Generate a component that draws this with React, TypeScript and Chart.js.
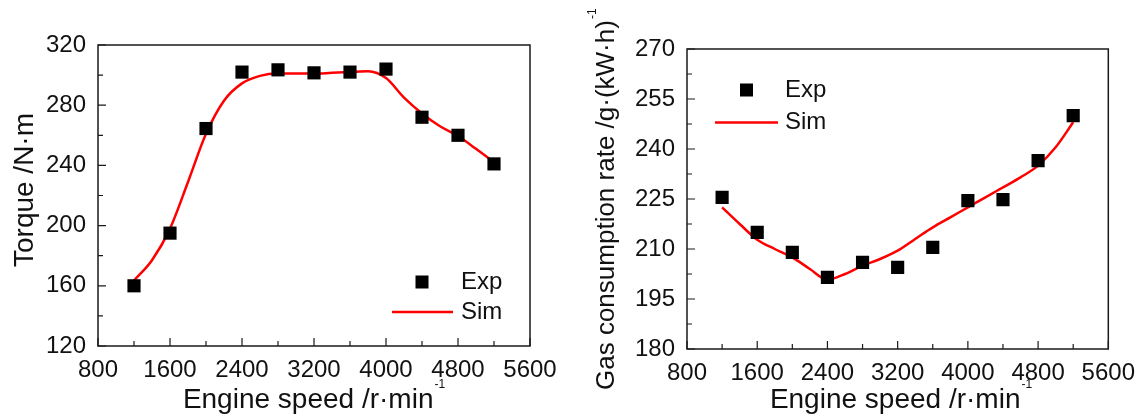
import React, { useEffect, useRef } from "react";
import { Chart, registerables } from "chart.js";

Chart.register(...registerables);

// ---------------- data ----------------
const speeds = [1200, 1600, 2000, 2400, 2800, 3200, 3600, 4000, 4400, 4800, 5200];
const torqueExp = [160, 195, 264.5, 302, 303.5, 301.5, 302, 304, 272, 260, 241];
const gasExp = [225.5, 215, 209, 201.5, 206, 204.5, 210.5, 224.5, 224.8, 236.5, 250];

const simSpeeds = [1200, 1400, 1600, 1800, 2000, 2200, 2400, 2600, 2800, 3000, 3200, 3400, 3600, 3800, 4000, 4200, 4400, 4600, 4800, 5000, 5200];
const torqueSim = [163.5, 177, 198, 229, 261, 283, 294.5, 299.5, 301, 301, 301, 301.5, 302, 302.5, 298, 285, 274.5, 266, 259.5, 251, 242];
const gasSim = [222.5, 217.5, 212.8, 210, 207.5, 204, 200.8, 202.5, 205, 207, 209.5, 213, 216.5, 219.5, 222.5, 225.5, 228.5, 231.5, 235, 240.5, 248];

const speedTicks = [800, 1600, 2400, 3200, 4000, 4800, 5600];
const torqueTicks = [120, 160, 200, 240, 280, 320];
const gasTicks = [180, 195, 210, 225, 240, 255, 270];

const seriesLabels = ["Exp", "Sim"];
const xTitle = "Engine speed /r\u00B7min";
const torqueTitle = "Torque /N\u00B7m";
const gasTitle = "Gas consumption rate /g\u00B7(kW\u00B7h)";
const supText = "-1";

// ---------------- layout ----------------
const FONT = "'Liberation Sans', Arial, Helvetica, sans-serif";
const H = 416;

type Panel = {
  width: number;
  area: { left: number; right: number; top: number; bottom: number };
  exp: number[];
  sim: number[];
  yTicks: number[];
  yTitle: string;
  yTitleSup: boolean;
  yTitleFont: number;
  yTitleBaseX: number;
  yTitleCenterY?: number;
  yTitleStartY?: number;
  xTitleCenter: number;
  legend: { sqX: number; sqY: number; textX: number; lineX1: number; lineX2: number; lineY: number };
};

const panels: Panel[] = [
  {
    width: 572,
    area: { left: 98, right: 530, top: 45, bottom: 346 },
    exp: torqueExp,
    sim: torqueSim,
    yTicks: torqueTicks,
    yTitle: torqueTitle,
    yTitleSup: false,
    yTitleFont: 28,
    yTitleBaseX: 33,
    yTitleCenterY: 190,
    xTitleCenter: 314,
    legend: { sqX: 422, sqY: 282, textX: 461, lineX1: 392, lineX2: 453, lineY: 312 },
  },
  {
    width: 573,
    area: { left: 115, right: 544, top: 49, bottom: 349 },
    exp: gasExp,
    sim: gasSim,
    yTicks: gasTicks,
    yTitle: gasTitle,
    yTitleSup: true,
    yTitleFont: 26,
    yTitleBaseX: 42,
    yTitleStartY: 390,
    xTitleCenter: 329,
    legend: { sqX: 174.5, sqY: 90, textX: 213, lineX1: 143, lineX2: 206, lineY: 122.5 },
  },
];

function decorPlugin(p: Panel) {
  return {
    id: "decor",
    afterDraw(chart: any) {
      const { ctx, chartArea: a, scales } = chart;
      const xs = scales.x;
      const ys = scales.y;
      ctx.save();
      // frame
      ctx.strokeStyle = "#1a1a1a";
      ctx.lineWidth = 1.5;
      ctx.strokeRect(a.left, a.top, a.right - a.left, a.bottom - a.top);
      // inward ticks
      ctx.lineWidth = 1.2;
      ctx.beginPath();
      for (let i = 0; i < speedTicks.length; i++) {
        const px = xs.getPixelForValue(speedTicks[i]);
        ctx.moveTo(px, a.bottom);
        ctx.lineTo(px, a.bottom - 8);
        if (i < speedTicks.length - 1) {
          const mx = xs.getPixelForValue((speedTicks[i] + speedTicks[i + 1]) / 2);
          ctx.moveTo(mx, a.bottom);
          ctx.lineTo(mx, a.bottom - 5);
        }
      }
      for (let i = 0; i < p.yTicks.length; i++) {
        const py = ys.getPixelForValue(p.yTicks[i]);
        ctx.moveTo(a.left, py);
        ctx.lineTo(a.left + 8, py);
        if (i < p.yTicks.length - 1) {
          const my = ys.getPixelForValue((p.yTicks[i] + p.yTicks[i + 1]) / 2);
          ctx.moveTo(a.left, my);
          ctx.lineTo(a.left + 5, my);
        }
      }
      ctx.stroke();

      // legend
      const L = p.legend;
      const ds = chart.data.datasets;
      ctx.fillStyle = "#000";
      ctx.fillRect(L.sqX - 6.5, L.sqY - 6.5, 13, 13);
      ctx.strokeStyle = ds[1].borderColor;
      ctx.lineWidth = 2.5;
      ctx.beginPath();
      ctx.moveTo(L.lineX1, L.lineY);
      ctx.lineTo(L.lineX2, L.lineY);
      ctx.stroke();
      ctx.fillStyle = "#111";
      ctx.font = `24px ${FONT}`;
      ctx.textAlign = "left";
      ctx.textBaseline = "middle";
      ctx.fillText(ds[0].label, L.textX, L.sqY);
      ctx.fillText(ds[1].label, L.textX, L.lineY);

      // x title with superscript
      ctx.textBaseline = "alphabetic";
      ctx.font = `28px ${FONT}`;
      const wMain = ctx.measureText(xTitle).width;
      ctx.font = `12px ${FONT}`;
      const wSup = ctx.measureText(supText).width;
      const x0 = p.xTitleCenter - (wMain + wSup + 1) / 2;
      ctx.font = `28px ${FONT}`;
      ctx.fillText(xTitle, x0, 408);
      ctx.font = `12px ${FONT}`;
      ctx.fillText(supText, x0 + wMain + 1, 388);

      // y title
      ctx.save();
      ctx.font = `${p.yTitleFont}px ${FONT}`;
      const wy = ctx.measureText(p.yTitle).width;
      if (p.yTitleSup) {
        ctx.translate(p.yTitleBaseX, p.yTitleStartY as number);
        ctx.rotate(-Math.PI / 2);
        ctx.textAlign = "left";
        ctx.fillText(p.yTitle, 0, 0);
        ctx.font = `12px ${FONT}`;
        ctx.fillText(supText, wy + 1, -18);
      } else {
        ctx.translate(p.yTitleBaseX, p.yTitleCenterY as number);
        ctx.rotate(-Math.PI / 2);
        ctx.textAlign = "center";
        ctx.fillText(p.yTitle, 0, 0);
      }
      ctx.restore();
      ctx.restore();
    },
  };
}

function makeConfig(p: Panel): any {
  const a = p.area;
  return {
    type: "scatter",
    data: {
      datasets: [
        {
          label: seriesLabels[0],
          data: speeds.map((x, i) => ({ x, y: p.exp[i] })),
          pointStyle: "rect",
          pointRadius: 9.3,
          pointHoverRadius: 9.3,
          backgroundColor: "#000",
          borderColor: "#000",
          borderWidth: 0,
          showLine: false,
          order: 1,
        },
        {
          label: seriesLabels[1],
          data: simSpeeds.map((x, i) => ({ x, y: p.sim[i] })),
          showLine: true,
          borderColor: "#ff0000",
          borderWidth: 2.5,
          pointRadius: 0,
          cubicInterpolationMode: "monotone",
          fill: false,
          order: 2,
        },
      ],
    },
    options: {
      responsive: false,
      maintainAspectRatio: false,
      animation: false,
      devicePixelRatio: 1,
      layout: { padding: { top: a.top, right: p.width - a.right, bottom: 0, left: 0 } },
      plugins: { legend: { display: false }, tooltip: { enabled: false }, title: { display: false } },
      scales: {
        x: {
          type: "linear",
          min: speedTicks[0],
          max: speedTicks[speedTicks.length - 1],
          grid: { display: false, drawTicks: false },
          border: { display: false },
          ticks: {
            stepSize: speedTicks[1] - speedTicks[0],
            autoSkip: false,
            maxRotation: 0,
            padding: 10,
            color: "#111",
            font: { size: 24, family: FONT },
            callback: (v: any) => String(v),
          },
          afterFit: (s: any) => {
            s.height = H - a.bottom;
          },
        },
        y: {
          type: "linear",
          min: p.yTicks[0],
          max: p.yTicks[p.yTicks.length - 1],
          grid: { display: false, drawTicks: false },
          border: { display: false },
          ticks: {
            stepSize: p.yTicks[1] - p.yTicks[0],
            autoSkip: false,
            padding: 12,
            color: "#111",
            font: { size: 24, family: FONT },
            callback: (v: any) => String(v),
          },
          afterFit: (s: any) => {
            s.width = a.left;
          },
        },
      },
    },
    plugins: [decorPlugin(p)],
  };
}

function PanelChart({ p, left }: { p: Panel; left: number }) {
  const ref = useRef<HTMLCanvasElement | null>(null);
  useEffect(() => {
    if (!ref.current) return;
    const chart = new Chart(ref.current, makeConfig(p));
    return () => chart.destroy();
  }, [p]);
  return (
    <canvas
      ref={ref}
      width={p.width}
      height={H}
      style={{ position: "absolute", left, top: 0, width: p.width, height: H }}
    />
  );
}

export default function App() {
  return (
    <div style={{ position: "fixed", left: 0, top: 0, width: 1145, height: H, background: "#fff" }}>
      <PanelChart p={panels[0]} left={0} />
      <PanelChart p={panels[1]} left={572} />
    </div>
  );
}
